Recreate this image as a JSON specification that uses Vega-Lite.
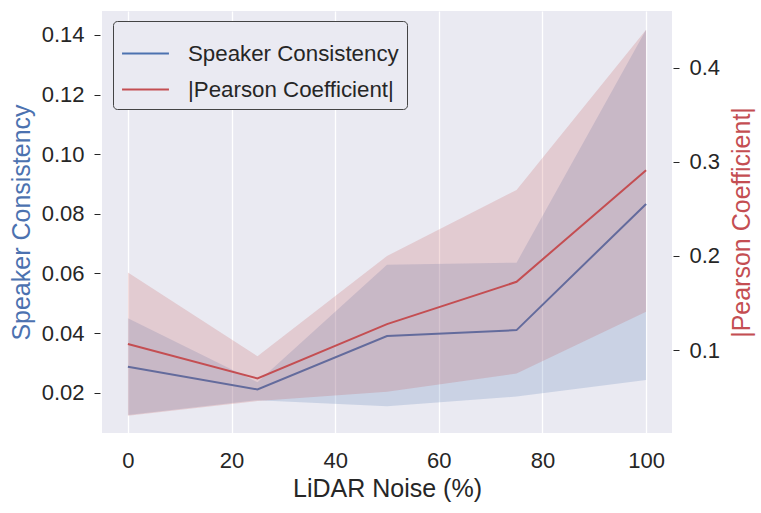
{
  "$schema": "https://vega.github.io/schema/vega-lite/v6.json",
  "width": 570,
  "height": 422,
  "autosize": {"type": "none"},
  "padding": {"left": 102, "top": 11, "right": 89, "bottom": 80},
  "background": "white",
  "config": {
    "font": "Liberation Sans",
    "view": {"fill": "#EAEAF2", "stroke": null},
    "axis": {
      "labelColor": "#262626",
      "titleColor": "#262626",
      "tickColor": "#262626",
      "titleFontWeight": "normal",
      "labelFontSize": 22,
      "titleFontSize": 25,
      "domain": false
    }
  },
  "datasets": {
    "speaker": [
      {"noise": 0, "series": "Speaker Consistency", "mean": 0.0287, "lo": 0.0125, "hi": 0.045},
      {"noise": 25, "series": "Speaker Consistency", "mean": 0.0211, "lo": 0.0175, "hi": 0.0235},
      {"noise": 50, "series": "Speaker Consistency", "mean": 0.039, "lo": 0.0155, "hi": 0.0629},
      {"noise": 75, "series": "Speaker Consistency", "mean": 0.041, "lo": 0.0187, "hi": 0.0636},
      {"noise": 100, "series": "Speaker Consistency", "mean": 0.0833, "lo": 0.0243, "hi": 0.1417}
    ],
    "pearson": [
      {"noise": 0, "series": "|Pearson Coefficient|", "mean": 0.1064, "lo": 0.0303, "hi": 0.1825},
      {"noise": 25, "series": "|Pearson Coefficient|", "mean": 0.07, "lo": 0.0459, "hi": 0.0936},
      {"noise": 50, "series": "|Pearson Coefficient|", "mean": 0.1276, "lo": 0.0557, "hi": 0.2},
      {"noise": 75, "series": "|Pearson Coefficient|", "mean": 0.1725, "lo": 0.0752, "hi": 0.27},
      {"noise": 100, "series": "|Pearson Coefficient|", "mean": 0.291, "lo": 0.1407, "hi": 0.44}
    ]
  },
  "encoding": {
    "x": {
      "field": "noise",
      "type": "quantitative",
      "scale": {"domain": [-5, 105], "nice": false, "zero": false},
      "axis": {
        "title": "LiDAR Noise (%)",
        "values": [0, 20, 40, 60, 80, 100],
        "grid": true,
        "gridColor": "white",
        "gridWidth": 1.3,
        "ticks": false,
        "tickSize": 0,
        "labelPadding": 17,
        "titlePadding": 5
      }
    }
  },
  "layer": [
    {
      "data": {"name": "speaker"},
      "layer": [
        {
          "mark": {"type": "area", "color": "#4C72B0", "opacity": 0.2},
          "encoding": {
            "y": {
              "field": "lo",
              "type": "quantitative",
              "scale": {"domain": [0.0065, 0.148], "nice": false, "zero": false},
              "axis": {
                "title": "Speaker Consistency",
                "titleColor": "#4C72B0",
                "values": [0.02, 0.04, 0.06, 0.08, 0.1, 0.12, 0.14],
                "format": ".2f",
                "grid": false,
                "offset": 2,
                "tickSize": 6,
                "labelPadding": 10,
                "titlePadding": 7
              }
            },
            "y2": {"field": "hi"}
          }
        },
        {
          "mark": {"type": "line", "strokeWidth": 2},
          "encoding": {
            "y": {
              "field": "mean",
              "type": "quantitative",
              "axis": {
                "title": "Speaker Consistency",
                "titleColor": "#4C72B0",
                "values": [0.02, 0.04, 0.06, 0.08, 0.1, 0.12, 0.14],
                "format": ".2f",
                "grid": false,
                "offset": 2,
                "tickSize": 6,
                "labelPadding": 10,
                "titlePadding": 7
              }
            },
            "color": {
              "field": "series",
              "type": "nominal",
              "scale": {"domain": ["Speaker Consistency", "|Pearson Coefficient|"], "range": ["#4C72B0", "#C44E52"]},
              "legend": {
                "title": null,
                "orient": "none",
                "legendX": 11,
                "legendY": 10,
                "symbolType": "stroke",
                "symbolStrokeWidth": 2,
                "symbolSize": 2200,
                "labelFontSize": 22.3,
                "labelLimit": 400,
                "labelColor": "#262626",
                "labelOffset": 18,
                "fillColor": "#EAEAF2",
                "strokeColor": "#444444",
                "cornerRadius": 4,
                "padding": 8,
                "rowPadding": -13
              }
            }
          }
        }
      ]
    },
    {
      "data": {"name": "pearson"},
      "layer": [
        {
          "mark": {"type": "area", "color": "#C44E52", "opacity": 0.2},
          "encoding": {
            "y": {
              "field": "lo",
              "type": "quantitative",
              "scale": {"domain": [0.012, 0.46], "nice": false, "zero": false},
              "axis": {
                "orient": "right",
                "title": "|Pearson Coefficient|",
                "titleColor": "#C44E52",
                "titleAngle": 270,
                "titleBaseline": "top",
                "values": [0.1, 0.2, 0.3, 0.4],
                "format": ".1f",
                "grid": false,
                "offset": 1,
                "tickSize": 6,
                "labelPadding": 10,
                "titlePadding": 10
              }
            },
            "y2": {"field": "hi"}
          }
        },
        {
          "mark": {"type": "line", "strokeWidth": 2},
          "encoding": {
            "y": {
              "field": "mean",
              "type": "quantitative",
              "axis": {
                "orient": "right",
                "title": "|Pearson Coefficient|",
                "titleColor": "#C44E52",
                "titleAngle": 270,
                "titleBaseline": "top",
                "values": [0.1, 0.2, 0.3, 0.4],
                "format": ".1f",
                "grid": false,
                "offset": 1,
                "tickSize": 6,
                "labelPadding": 10,
                "titlePadding": 10
              }
            },
            "color": {
              "field": "series",
              "type": "nominal",
              "scale": {"domain": ["Speaker Consistency", "|Pearson Coefficient|"], "range": ["#4C72B0", "#C44E52"]}
            }
          }
        }
      ]
    }
  ],
  "resolve": {"scale": {"y": "independent"}}
}
